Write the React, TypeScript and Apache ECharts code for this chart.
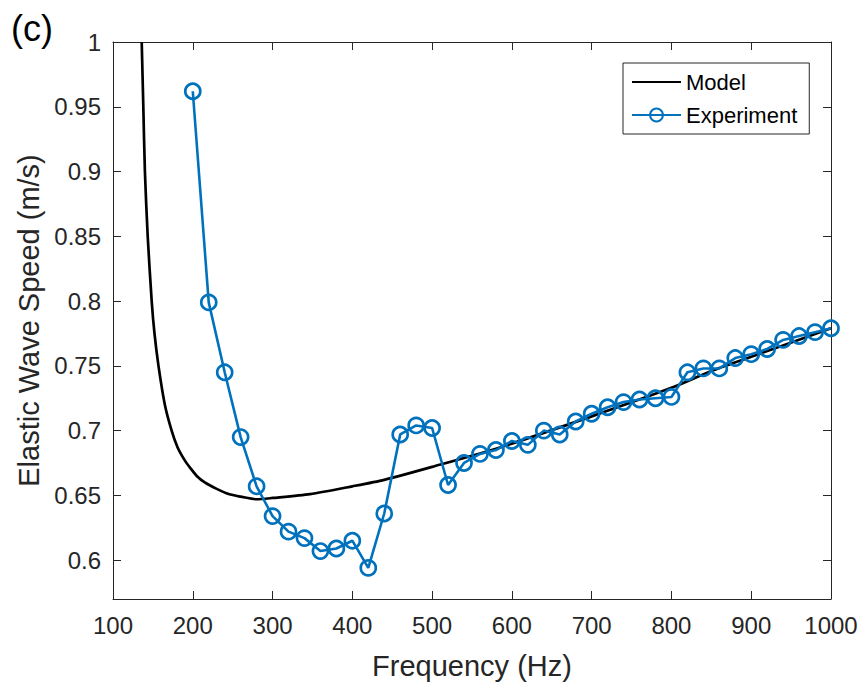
import React, { useEffect, useRef } from "react";
import * as echarts from "echarts";

const modelFreq = [136, 137, 138, 140, 143.5, 148.5, 152, 157, 165, 173.5, 181, 190, 197, 205, 215, 230, 245, 260, 280, 300, 347, 400, 440, 500, 585, 700, 800, 850, 900, 1000];
const modelSpeed = [1.0, 0.975, 0.95, 0.9, 0.85, 0.8, 0.775, 0.75, 0.72, 0.7, 0.687, 0.677, 0.671, 0.665, 0.66, 0.655, 0.651, 0.649, 0.647, 0.648, 0.651, 0.657, 0.662, 0.672, 0.687, 0.711, 0.733, 0.746, 0.757, 0.779];

const expFreq = [200, 220, 240, 260, 280, 300, 320, 340, 360, 380, 400, 420, 440, 460, 480, 500, 520, 540, 560, 580, 600, 620, 640, 660, 680, 700, 720, 740, 760, 780, 800, 820, 840, 860, 880, 900, 920, 940, 960, 980, 1000];
const expSpeed = [0.962, 0.799, 0.745, 0.695, 0.657, 0.634, 0.622, 0.617, 0.607, 0.609, 0.615, 0.594, 0.636, 0.697, 0.704, 0.702, 0.658, 0.675, 0.682, 0.685, 0.692, 0.689, 0.7, 0.697, 0.707, 0.713, 0.718, 0.722, 0.724, 0.725, 0.726, 0.745, 0.748, 0.748, 0.756, 0.759, 0.763, 0.77, 0.773, 0.776, 0.779];

const yTicks = [0.6, 0.65, 0.7, 0.75, 0.8, 0.85, 0.9, 0.95, 1];

const FONT = "Liberation Sans";
const AX = "#262626";
const BLUE = "#0072BD";

export default function App() {
  const ref = useRef<HTMLDivElement>(null);
  useEffect(() => {
    if (!ref.current) return;
    const chart = echarts.init(ref.current, undefined, { renderer: "svg" });
    const tickCommon = { show: true, inside: true, length: 8, lineStyle: { color: AX, width: 1 } };
    chart.setOption({
      animation: false,
      backgroundColor: "#fff",
      textStyle: { fontFamily: FONT },
      grid: { left: 113, right: 36, top: 42, bottom: 99 },
      graphic: [
        { type: "text", left: 11, top: 10, style: { text: "(c)", fontSize: 36, fontFamily: FONT, fill: "#000" } },
      ],
      legend: {
        orient: "vertical",
        left: 623,
        top: 63,
        backgroundColor: "#fff",
        borderColor: AX,
        borderWidth: 1,
        borderRadius: 0,
        padding: [7, 12, 7, 8],
        itemGap: 9,
        itemWidth: 49,
        itemHeight: 16,
        textStyle: { fontSize: 22, fontFamily: FONT, color: "#000", lineHeight: 24 },
        data: [{ name: "Model", itemStyle: { opacity: 0 } }, { name: "Experiment" }],
      },
      xAxis: [
        {
          type: "value",
          min: 100,
          max: 1000,
          interval: 100,
          position: "bottom",
          name: "Frequency (Hz)",
          nameLocation: "middle",
          nameGap: 52,
          nameTextStyle: { fontSize: 29, color: AX, fontFamily: FONT },
          axisLine: { show: true, lineStyle: { color: AX, width: 1 } },
          axisTick: tickCommon,
          axisLabel: { fontSize: 24, color: AX, margin: 14, fontFamily: FONT, formatter: (v: number) => String(v) },
          splitLine: { show: false },
        },
        {
          type: "value",
          min: 100,
          max: 1000,
          interval: 100,
          position: "top",
          axisLine: { show: true, lineStyle: { color: AX, width: 1 } },
          axisTick: tickCommon,
          axisLabel: { show: false },
          splitLine: { show: false },
        },
      ],
      yAxis: [
        {
          type: "value",
          min: 0.57,
          max: 1,
          position: "left",
          name: "Elastic Wave Speed (m/s)",
          nameLocation: "middle",
          nameGap: 70,
          nameTextStyle: { fontSize: 29, color: AX, fontFamily: FONT },
          axisLine: { show: true, lineStyle: { color: AX, width: 1 } },
          axisTick: { ...tickCommon, customValues: yTicks },
          axisLabel: {
            fontSize: 24,
            color: AX,
            margin: 12,
            fontFamily: FONT,
            customValues: yTicks,
            formatter: (v: number) => String(+v.toFixed(2)),
          },
          splitLine: { show: false },
        },
        {
          type: "value",
          min: 0.57,
          max: 1,
          position: "right",
          axisLine: { show: true, lineStyle: { color: AX, width: 1 } },
          axisTick: { ...tickCommon, customValues: yTicks },
          axisLabel: { show: false, customValues: yTicks },
          splitLine: { show: false },
        },
      ],
      series: [
        {
          name: "Model",
          type: "line",
          xAxisIndex: 0,
          yAxisIndex: 0,
          data: modelFreq.map((f, i) => [f, modelSpeed[i]]),
          smooth: 0.25,
          showSymbol: false,
          symbol: "none",
          clip: true,
          lineStyle: { color: "#000", width: 2.7 },
          itemStyle: { color: "#000" },
        },
        {
          name: "Experiment",
          type: "line",
          xAxisIndex: 0,
          yAxisIndex: 0,
          data: expFreq.map((f, i) => [f, expSpeed[i]]),
          symbol: "circle",
          symbolSize: 15,
          showSymbol: true,
          lineStyle: { color: BLUE, width: 2.6 },
          itemStyle: { color: "rgba(255,255,255,0)", borderColor: BLUE, borderWidth: 2.7 },
        },
      ],
    });
    return () => chart.dispose();
  }, []);
  return <div ref={ref} style={{ position: "fixed", left: 0, top: 0, width: 867, height: 698 }} />;
}
